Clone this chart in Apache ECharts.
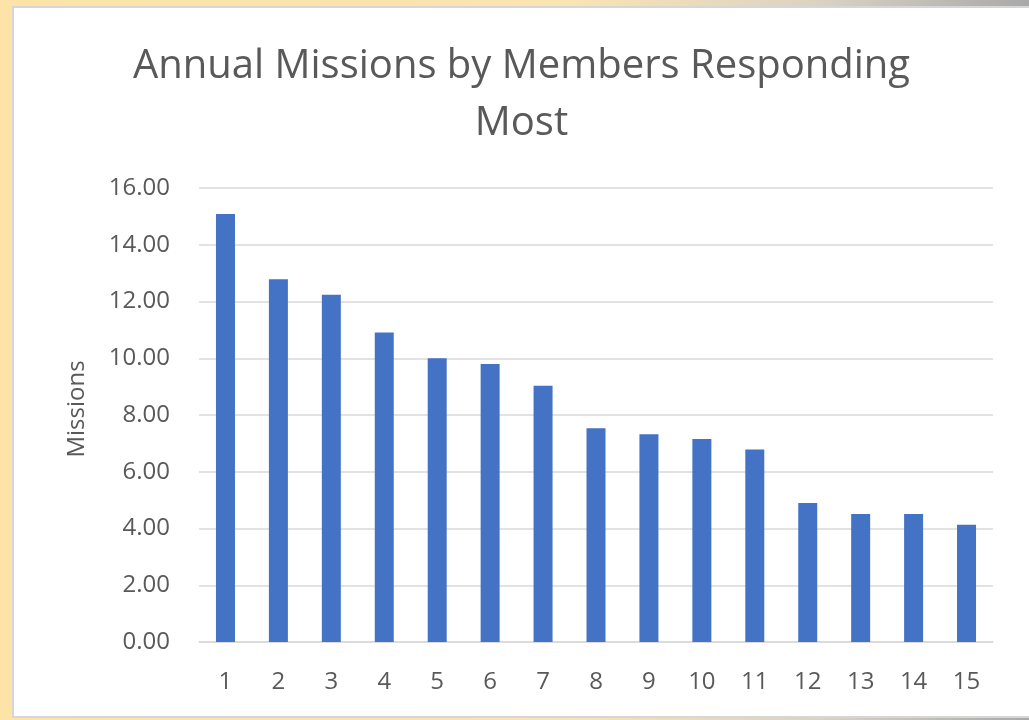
<!DOCTYPE html>
<html>
<head>
<meta charset="utf-8">
<script src="https://cdn.jsdelivr.net/npm/echarts@6/dist/echarts.min.js"></script>
<style>
  html, body {
    margin: 0;
    padding: 0;
    width: 1029px;
    height: 720px;
    overflow: hidden;
    background: linear-gradient(to right, #fde3a8 0%, #fbe4b4 55%, #d9d2c4 80%, #a9a9a9 100%);
  }
  .mychart {
    position: absolute;
    left: 14px;
    top: 8px;
    width: 1015px;
    height: 708px;
    background: #fff;
    box-shadow: 0 0 0 2px #d6d6d6;
  }
</style>
</head>
<body>
<div id="echarts" class="mychart"></div>
<script>
// 数据
var categories = ["1", "2", "3", "4", "5", "6", "7", "8", "9", "10", "11", "12", "13", "14", "15"];
var missions = [15.08, 12.78, 12.24, 10.91, 10.0, 9.8, 9.03, 7.53, 7.32, 7.15, 6.78, 4.9, 4.51, 4.51, 4.13];
var yTicks = { min: 0, max: 16, interval: 2 };

var myCharts = echarts.init(document.getElementById("echarts"));

myCharts.setOption({
  animation: false,
  title: {
    text: "Annual Missions by Members Responding\nMost",
    left: "center",
    top: 25,
    textStyle: {
      color: "#595959",
      fontFamily: "Open Sans",
      fontWeight: "normal",
      fontSize: 40,
      lineHeight: 57,
    },
  },
  grid: {
    top: 180,
    left: 185,
    right: 36,
    bottom: 74,
    containLabel: false,
  },
  xAxis: {
    type: "category",
    data: categories,
    axisTick: { show: false },
    axisLine: {
      show: true,
      lineStyle: { color: "#d9d9d9", width: 1.5 },
    },
    axisLabel: {
      margin: 28,
      color: "#595959",
      fontFamily: "Open Sans",
      fontSize: 24,
    },
  },
  yAxis: {
    type: "value",
    min: yTicks.min,
    max: yTicks.max,
    interval: yTicks.interval,
    name: "Missions",
    nameLocation: "middle",
    nameGap: 110,
    nameTextStyle: {
      color: "#595959",
      fontFamily: "Open Sans",
      fontSize: 24,
      padding: [0, 0, 0, 12],
    },
    axisLine: { show: false },
    axisTick: { show: false },
    axisLabel: {
      margin: 29,
      color: "#595959",
      fontFamily: "Open Sans",
      fontSize: 24,
      formatter: function (v) {
        return v.toFixed(2);
      },
    },
    splitLine: {
      lineStyle: { color: "#d9d9d9", width: 1.5 },
    },
  },
  series: [
    {
      type: "bar",
      data: missions,
      barWidth: 19,
      itemStyle: { color: "#4472c4" },
    },
  ],
});
</script>
</body>
</html>
